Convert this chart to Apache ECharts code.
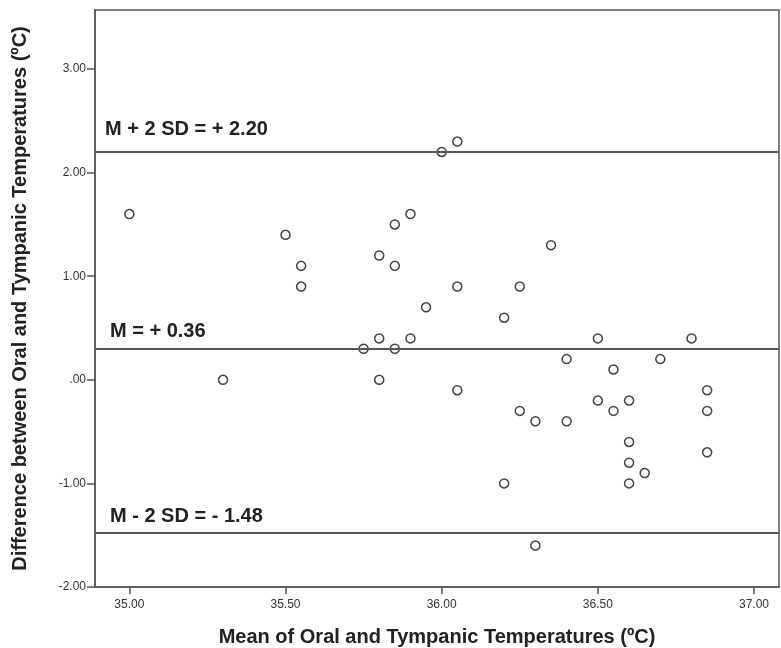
<!DOCTYPE html>
<html>
<head>
<meta charset="utf-8">
<script src="https://cdn.jsdelivr.net/npm/echarts@6/dist/echarts.min.js"></script>
<style>
    html, body { margin: 0; padding: 0; background: #fff; }
    #chart { width: 781px; height: 648px; }
</style>
</head>
<body>
<div id="chart"></div>
<script>
    // 均值 (x) 与差值 (y)
    var meanTemp = [35.00, 35.30, 35.50, 35.55, 35.55, 35.75, 35.80, 35.80, 35.80, 35.85, 35.85, 35.85,
        35.90, 35.90, 35.95, 36.00, 36.05, 36.05, 36.05, 36.20, 36.20, 36.25, 36.25, 36.30, 36.30,
        36.35, 36.40, 36.40, 36.50, 36.50, 36.55, 36.55, 36.60, 36.60, 36.60, 36.60, 36.65, 36.70,
        36.80, 36.85, 36.85, 36.85];
    var diffTemp = [1.6, 0.0, 1.4, 1.1, 0.9, 0.3, 1.2, 0.4, 0.0, 1.5, 1.1, 0.3,
        1.6, 0.4, 0.7, 2.2, 2.3, 0.9, -0.1, 0.6, -1.0, 0.9, -0.3, -0.4, -1.6,
        1.3, 0.2, -0.4, 0.4, -0.2, 0.1, -0.3, -0.2, -0.6, -0.8, -1.0, -0.9, 0.2,
        0.4, -0.1, -0.3, -0.7];

    // 参考线
    var limitValues = [2.2, 0.3, -1.48];
    var limitLabels = ['M + 2 SD = + 2.20', 'M = + 0.36', 'M - 2 SD = - 1.48'];

    // 刻度
    var xTicks = [35, 35.5, 36, 36.5, 37];
    var yTicks = [-2, -1, 0, 1, 2, 3];

    var points = [];
    for (var i = 0; i < meanTemp.length; i++) {
        points.push([meanTemp[i], diffTemp[i]]);
    }

    var labelDist = [[10, 12], [15, 7], [15, 7]];
    var lineData = [];
    for (var j = 0; j < limitValues.length; j++) {
        lineData.push({
            yAxis: limitValues[j],
            label: {formatter: limitLabels[j], distance: labelDist[j]}
        });
    }

    function yFmt(v) {
        if (v === 0) return '.00';
        return v.toFixed(2);
    }

    var chart = echarts.init(document.getElementById('chart'));
    var option = {
        backgroundColor: '#fff',
        animation: false,
        grid: {
            left: 95,
            right: 2,
            top: 10,
            bottom: 61,
            outerBoundsMode: 'none',
            show: true,
            borderColor: '#555',
            borderWidth: 1.5
        },
        xAxis: {
            type: 'value',
            min: 34.89,
            max: 37.08,
            name: 'Mean of Oral and Tympanic Temperatures (ºC)',
            nameLocation: 'middle',
            nameGap: 40,
            nameTextStyle: {
                fontFamily: 'Liberation Sans',
                fontWeight: 'bold',
                fontSize: 20,
                color: '#222'
            },
            axisLine: {onZero: false, lineStyle: {color: '#555', width: 1.5}},
            axisTick: {
                show: true,
                length: 7,
                customValues: xTicks,
                lineStyle: {color: '#555', width: 1.5}
            },
            axisLabel: {
                customValues: xTicks,
                formatter: function (v) { return v.toFixed(2); },
                fontFamily: 'Liberation Sans',
                fontSize: 12,
                color: '#333',
                margin: 12
            },
            splitLine: {show: false}
        },
        yAxis: {
            type: 'value',
            min: -2,
            max: 3.57,
            name: 'Difference between Oral and Tympanic Temperatures (ºC)',
            nameLocation: 'middle',
            nameGap: 65,
            nameTextStyle: {
                fontFamily: 'Liberation Sans',
                fontWeight: 'bold',
                fontSize: 20,
                color: '#222'
            },
            axisLine: {onZero: false, lineStyle: {color: '#555', width: 1.5}},
            axisTick: {
                show: true,
                length: 8,
                customValues: yTicks,
                lineStyle: {color: '#555', width: 1.5}
            },
            axisLabel: {
                customValues: yTicks,
                formatter: yFmt,
                fontFamily: 'Liberation Sans',
                fontSize: 12,
                color: '#333',
                margin: 9
            },
            splitLine: {show: false}
        },
        series: [
            {
                name: 'diff',
                type: 'scatter',
                symbol: 'circle',
                symbolSize: 9,
                itemStyle: {
                    color: '#fff',
                    borderColor: '#444',
                    borderWidth: 1.5,
                    opacity: 1
                },
                data: points,
                markLine: {
                    silent: true,
                    symbol: ['none', 'none'],
                    lineStyle: {color: '#555', type: 'solid', width: 2},
                    label: {
                        position: 'insideStartTop',
                        fontFamily: 'Liberation Sans',
                        fontWeight: 'bold',
                        fontSize: 20,
                        color: '#222'
                    },
                    data: lineData
                },
                z: 3
            }
        ]
    };
    chart.setOption(option);
</script>
</body>
</html>
